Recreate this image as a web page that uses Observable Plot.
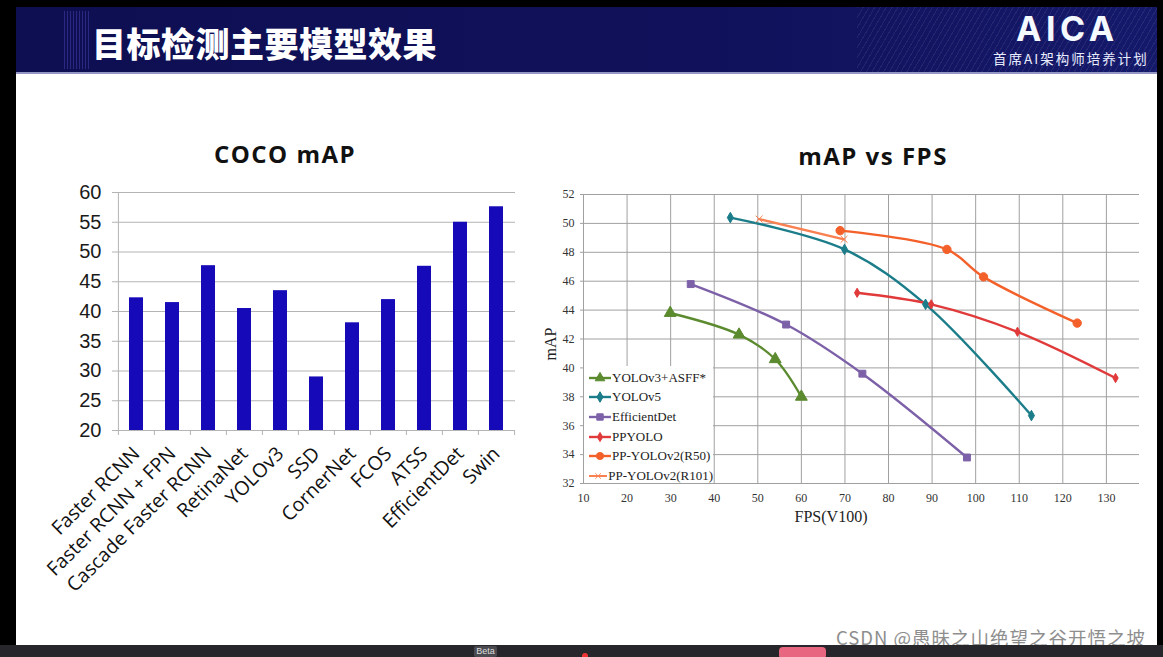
<!DOCTYPE html>
<html><head><meta charset="utf-8">
<script src="https://cdn.jsdelivr.net/npm/d3@7"></script>
<script src="https://cdn.jsdelivr.net/npm/@observablehq/plot@0.6"></script>
<style>
html,body{margin:0;padding:0;}
body{background:#000;width:1163px;height:657px;overflow:hidden;position:relative;font-family:"Noto Sans CJK SC","Noto Sans",sans-serif;}
.abs{position:absolute;}
#header{left:16px;top:7px;width:1141px;height:65px;background:linear-gradient(90deg,#0e0f52 0%,#10115a 60%,#15196a 100%);border-bottom:2px solid #9497c4;overflow:hidden;}
#hatch{right:0;top:0;width:300px;height:65px;background:repeating-linear-gradient(120deg,rgba(255,255,255,0.07) 0 1px,transparent 1px 5px);}
#stripes{left:48px;top:4px;width:26px;height:58px;background:repeating-linear-gradient(90deg,rgba(90,90,220,0.35) 0 1px,transparent 1px 3px);}
#title{left:76px;top:16px;color:#fff;font-size:34px;font-weight:900;line-height:40px;letter-spacing:0.5px;}
#aica{left:1000px;top:4px;color:#f4f8ff;font-family:"Inter","Roboto",sans-serif;font-weight:700;font-size:34px;letter-spacing:4.5px;line-height:36px;}
#aicasub{left:977px;top:42px;color:#e8ecff;font-size:13.5px;letter-spacing:2px;line-height:18px;}
#body{left:16px;top:74px;width:1141px;height:571px;background:#fff;}
#bottom{left:0;top:645px;width:1163px;height:12px;background:#26262b;}
#beta{left:474px;top:646px;width:23px;height:11px;background:#4a4a50;color:#ddd;font-family:"Liberation Sans",sans-serif;font-size:9px;line-height:11px;text-align:center;border-radius:2px;}
#reddot{left:582px;top:653px;width:6px;height:6px;border-radius:3px;background:#e33;}
#pink{left:779px;top:647px;width:47px;height:12px;border-radius:4px;background:#e8667f;}
.ctitle{font-family:"Open Sans","Noto Sans",sans-serif;font-weight:700;font-size:24px;letter-spacing:1.5px;color:#111;white-space:nowrap;transform:translate(-50%,-50%);}
#wm{left:836px;top:626px;color:#8e8e8e;font-size:18.5px;letter-spacing:1px;line-height:22px;white-space:nowrap;}
.axt{font-family:"Liberation Serif","DejaVu Serif",serif;color:#222;white-space:nowrap;font-size:16px;}
#legend{left:584px;top:366px;width:129px;height:117px;background:#fff;font-family:"Liberation Serif",serif;font-size:13px;color:#222;}
.lrow{height:19.6px;display:flex;align-items:center;white-space:nowrap;}
.lrow svg{margin-left:5px;margin-right:1px;}
</style></head>
<body>
<div id="header" class="abs"><div id="hatch" class="abs"></div><div id="stripes" class="abs"></div>
  <div id="title" class="abs">目标检测主要模型效果</div>
  <div id="aica" class="abs">AICA</div>
  <div id="aicasub" class="abs">首席AI架构师培养计划</div>
</div>
<div id="body" class="abs"></div>
<div class="abs ctitle" style="left:285px;top:153px;">COCO mAP</div>
<div class="abs ctitle" style="left:873px;top:155px;">mAP vs FPS</div>
<div id="left" class="abs" style="left:40px;top:170px;"></div>
<div id="right" class="abs" style="left:540px;top:180px;"></div>
<div class="abs axt" style="left:551px;top:344px;transform:translate(-50%,-50%) rotate(-90deg);">mAP</div>
<div class="abs axt" style="left:831px;top:517px;transform:translate(-50%,-50%);">FPS(V100)</div>
<div id="legend" class="abs"></div>
<div id="wm" class="abs">CSDN @愚昧之山绝望之谷开悟之坡</div>
<div id="bottom" class="abs"></div>
<div id="beta" class="abs">Beta</div>
<div id="reddot" class="abs"></div>
<div id="pink" class="abs"></div>
<script>
// ---- Left chart data: COCO mAP ----
const models = ["Faster RCNN","Faster RCNN + FPN","Cascade Faster RCNN","RetinaNet","YOLOv3","SSD","CornerNet","FCOS","ATSS","EfficientDet","Swin"];
const cocoMAP = [42.3, 41.5, 47.7, 40.5, 43.5, 29.0, 38.1, 42.0, 47.6, 55.0, 57.6];
const cocoTicks = [20,25,30,35,40,45,50,55,60];

// ---- Right chart data: mAP vs FPS ----
const seriesNames = ["YOLOv3+ASFF*","YOLOv5","EfficientDet","PPYOLO","PP-YOLOv2(R50)","PP-YOLOv2(R101)"];
const seriesColors = ["#5b8a2f","#1b7d8a","#7d61a8","#e03a3a","#f4602a","#f98050"];
const seriesSymbols = ["triangle","diamond","square","diamond","circle","times"];
const seriesMarkerR = [4.4, 3.2, 3.9, 2.8, 4.2, 3.2];
const asffFPS = [29.9, 45.7, 54.0, 60.0];      const asffMAP = [43.8, 42.3, 40.6, 38.0];
const yolov5FPS = [43.7, 69.9, 88.5, 112.8];   const yolov5MAP = [50.4, 48.2, 44.4, 36.7];
const effFPS = [34.6, 56.5, 74.0, 98.0];       const effMAP = [45.8, 43.0, 39.6, 33.8];
const ppyoloFPS = [72.8, 89.8, 109.6, 132.1];  const ppyoloMAP = [45.2, 44.4, 42.5, 39.3];
const r50FPS = [68.9, 93.4, 101.8, 123.3];     const r50MAP = [49.5, 48.2, 46.3, 43.1];
const r101FPS = [50.3, 69.8];                  const r101MAP = [50.3, 48.9];
const fpsTicks = [10,20,30,40,50,60,70,80,90,100,110,120,130];
const mapTicks = [32,34,36,38,40,42,44,46,48,50,52];

// ---- Left chart ----
const L = {w:490, h:440, ml:77, mr:15, mt:22, mb:180};
const step = (L.w - L.ml - L.mr) / models.length;
const bars = models.map((m,i) => ({model:m, map:cocoMAP[i]}));
const grey = "#b4b4b4";
const leftPlot = Plot.plot({
  width:L.w, height:L.h, marginLeft:L.ml, marginRight:L.mr, marginTop:L.mt, marginBottom:L.mb,
  style:{background:"transparent", overflow:"visible", fontFamily:"'Liberation Sans',Arial,sans-serif"},
  x:{domain:models, paddingInner:0.6, paddingOuter:0.3, label:null},
  y:{domain:[cocoTicks[0], cocoTicks[cocoTicks.length-1]], label:null},
  marks:[
    Plot.gridY(cocoTicks, {stroke:grey, strokeOpacity:1, strokeWidth:1, insetLeft:-5}),
    Plot.ruleX([models[0]], {y1:cocoTicks[0], y2:cocoTicks[cocoTicks.length-1], dx:-step/2, stroke:grey}),
    Plot.ruleX(models, {y1:cocoTicks[0], y2:cocoTicks[0], insetBottom:-5, dx:-step/2, stroke:grey}),
    Plot.ruleX([models[models.length-1]], {y1:cocoTicks[0], y2:cocoTicks[0], insetBottom:-5, dx:step/2, stroke:grey}),
    Plot.barY(bars, {x:"model", y1:cocoTicks[0], y2:"map", fill:"#1509b8"}),
    Plot.axisY(cocoTicks, {tickSize:0, tickPadding:16, fontSize:20, color:"#1a1a1a", label:null}),
    Plot.axisX({tickSize:0, tickRotate:-45, tickPadding:20, fontSize:19.5, fontFamily:"'Open Sans','Noto Sans',sans-serif", color:"#111", label:null})
  ]
});
document.getElementById("left").appendChild(leftPlot);

// ---- Right chart ----
const R = {w:610, h:360, ml:43, mr:11, mt:14, mb:57};
const pts = [];
const add = (k, xs, ys) => xs.forEach((x,i) => pts.push({series:seriesNames[k], k, fps:x, map:ys[i]}));
add(0, asffFPS, asffMAP);
add(1, yolov5FPS, yolov5MAP);
add(2, effFPS, effMAP);
add(3, ppyoloFPS, ppyoloMAP);
add(4, r50FPS, r50MAP);
add(5, r101FPS, r101MAP);
const gridC = "#a0a0a0";
const dotMarks = seriesNames.map((name,k) =>
  Plot.dot(pts, {filter: d => d.k === k, x:"fps", y:"map", symbol:"series", fill:"series", stroke:"series", strokeWidth:1, r:seriesMarkerR[k]}));
const rightPlot = Plot.plot({
  width:R.w, height:R.h, marginLeft:R.ml, marginRight:R.mr, marginTop:R.mt, marginBottom:R.mb,
  style:{background:"transparent", overflow:"visible", fontFamily:"'Liberation Serif','DejaVu Serif',serif"},
  x:{domain:[10,137.6], label:null},
  y:{domain:[32,52], label:null},
  color:{domain:seriesNames, range:seriesColors},
  symbol:{domain:seriesNames, range:seriesSymbols},
  marks:[
    Plot.gridX(fpsTicks, {stroke:gridC, strokeOpacity:1, strokeWidth:1}),
    Plot.gridY(mapTicks, {stroke:gridC, strokeOpacity:1, strokeWidth:1, insetLeft:-3}),
    Plot.axisX(fpsTicks, {tickSize:0, tickPadding:10, fontSize:12, color:"#333", label:null}),
    Plot.axisY(mapTicks, {tickSize:0, tickPadding:9, fontSize:12, color:"#333", label:null}),
    Plot.line(pts, {x:"fps", y:"map", z:"series", stroke:"series", strokeWidth:2.4, curve:"catmull-rom"}),
    ...dotMarks
  ]
});
document.getElementById("right").appendChild(rightPlot);

// ---- Legend (HTML) ----
const symMap = {triangle:d3.symbolTriangle, diamond:d3.symbolDiamond, square:d3.symbolSquare, circle:d3.symbolCircle, times:d3.symbolTimes};
const leg = document.getElementById("legend");
leg.style.paddingTop = "2px"; leg.style.boxSizing = "border-box";
seriesNames.forEach((name,i) => {
  const row = document.createElement("div");
  row.className = "lrow";
  const c = seriesColors[i];
  const r = Math.min(seriesMarkerR[i], 3.6);
  const path = d3.symbol(symMap[seriesSymbols[i]], Math.PI*r*r)();
  row.innerHTML = `<svg width="22" height="12" viewBox="0 0 22 12"><line x1="0" y1="6" x2="22" y2="6" stroke="${c}" stroke-width="2.4"/><path d="${path}" transform="translate(11,6)" fill="${c}" stroke="${c}" stroke-width="1"/></svg><span>${name}</span>`;
  leg.appendChild(row);
});
</script>
</body></html>
